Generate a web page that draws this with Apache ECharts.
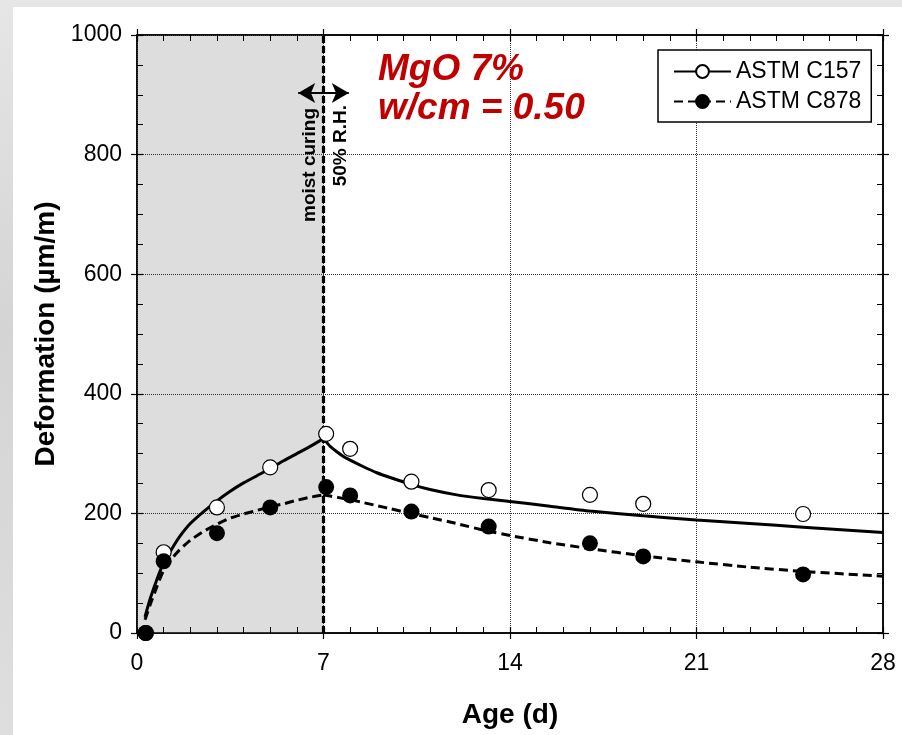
<!DOCTYPE html>
<html>
<head>
<meta charset="utf-8">
<script src="https://cdn.jsdelivr.net/npm/echarts@6/dist/echarts.min.js"></script>
<style>
html, body { margin: 0; padding: 0; width: 902px; height: 735px; overflow: hidden;
  background: linear-gradient(180deg, #e6e6e6 0%, #d4d4d4 45%, #dedede 100%); }
#panel { position: absolute; left: 13px; top: 7px; width: 889px; height: 728px; background: #fff; }
#chart { position: absolute; left: 0; top: 0; width: 902px; height: 735px; }
</style>
</head>
<body>
<div id="panel"></div>
<div id="chart"></div>
<script>
// measured points (age in days, deformation in µm/m)
var ageDays = [0.33, 1, 3, 5, 7.1, 8, 10.3, 13.2, 17, 19, 25];
var c157 = [0, 135, 210, 277, 333, 308, 253, 239, 231, 216, 199];
var c878 = [0, 120, 167, 210, 244, 230, 203, 178, 150, 128, 98];

// fitted curves: moist curing part, then drying part
var fitAgeMoist = [0.3, 0.5, 0.75, 1, 1.3, 1.6, 2, 2.5, 3, 3.5, 4, 4.5, 5, 5.5, 6, 6.5, 7];
var fitC157Moist = [27, 58, 90, 117, 140, 161, 183, 203, 221, 237, 251, 263, 275, 288, 300, 312, 325];
var fitC878Moist = [22, 48, 78, 105, 124, 139, 155, 170, 182, 192, 199, 205, 211, 216, 222, 227, 231];
var fitAgeDry = [7, 7.25, 7.5, 7.75, 8, 8.5, 9, 9.5, 10.25, 11, 12, 13, 14, 15.5, 17, 19, 21, 23, 25, 28];
var fitC157Dry = [325, 312, 303, 295, 289, 278, 268, 260, 249, 240, 231, 225, 220, 212, 204, 196, 189, 183, 177, 168];
var fitC878Dry = [231, 229, 227, 225, 223, 218, 213, 208, 200, 193, 183, 172, 163, 151, 141, 129, 119, 110, 103, 95];

var seriesNames = ["ASTM C157", "ASTM C878"];
var curingEnd = 7;      // end of moist curing (d)
var arrowSpan = [6.05, 7.95];
var arrowLevel = 903;

var FONT = '"Liberation Sans", Arial, sans-serif';

function pairs(xs, ys) {
    var out = [];
    for (var i = 0; i < xs.length; i++) {
        out.push([xs[i], ys[i]]);
    }
    return out;
}

var axisLine = {show: true, onZero: false, lineStyle: {color: '#000', width: 1.5}};
var dotted = {show: true, lineStyle: {color: '#333', type: 'dotted', width: 1}};

//x axes: grid 0 has labels and outward ticks, grid 1 inward ticks + grid lines
function xAxis(grid, pos, inside, labels) {
    var ax = {
        gridIndex: grid, type: 'value', position: pos, min: 0, max: 28, interval: 7,
        axisLine: axisLine,
        axisTick: {show: true, inside: inside, length: 6, lineStyle: {color: '#000', width: 1.2}},
        minorTick: {show: inside, splitNumber: 7, length: 6, lineStyle: {color: '#000', width: 1}},
        axisLabel: {show: labels, margin: 19, fontSize: 23, color: '#000', fontFamily: FONT},
        splitLine: {show: false},
        z: inside ? 3 : 0
    };
    if (labels) {
        ax.name = 'Age (d)';
        ax.nameLocation = 'middle';
        ax.nameGap = 68;
        ax.nameTextStyle = {fontSize: 28, fontWeight: 'bold', color: '#000', fontFamily: FONT};
    }
    if (inside && pos == 'bottom') ax.splitLine = dotted;
    return ax;
}

function yAxis(grid, pos, inside, labels) {
    var ax = {
        gridIndex: grid, type: 'value', position: pos, min: 0, max: 1000, interval: 200,
        axisLine: axisLine,
        axisTick: {show: true, inside: inside, length: 6, lineStyle: {color: '#000', width: 1.2}},
        minorTick: {show: inside, splitNumber: 4, length: 6, lineStyle: {color: '#000', width: 1}},
        axisLabel: {show: labels, margin: 15, fontSize: 23, color: '#000', fontFamily: FONT,
                    formatter: function(v) { return String(v); }},
        splitLine: {show: false},
        z: inside ? 3 : 0
    };
    if (labels) {
        ax.name = 'Deformation (µm/m)';
        ax.nameLocation = 'middle';
        ax.nameGap = 72;
        ax.nameTextStyle = {fontSize: 28, fontWeight: 'bold', color: '#000', fontFamily: FONT};
    }
    if (inside && pos == 'left') ax.splitLine = dotted;
    return ax;
}

var gridBox = {left: 137, right: 19, top: 35, bottom: 102};

function curve(name, xs, ys, dashed, fill) {
    return {
        name: name, type: 'line', smooth: 0.2, z: 4,
        data: pairs(xs, ys),
        symbol: 'circle', symbolSize: 13, showSymbol: false,
        lineStyle: {color: '#000', width: 3, type: dashed ? [9, 5] : 'solid'},
        itemStyle: {color: fill, borderColor: '#000', borderWidth: 1.3}
    };
}

var c157Moist = curve(seriesNames[0], fitAgeMoist, fitC157Moist, false, '#fff');
c157Moist.markLine = {silent: true, symbol: 'none', label: {show: false},
                      lineStyle: {color: '#000', type: [7, 3], width: 3.2},
                      data: [{xAxis: curingEnd}]};
var c157Dry = curve(seriesNames[0], fitAgeDry, fitC157Dry, false, '#fff');
c157Dry.markLine = {silent: true, symbol: ['arrow', 'arrow'], symbolSize: [15, 17], label: {show: false},
                    lineStyle: {color: '#000', type: 'solid', width: 2},
                    data: [[{coord: [arrowSpan[0], arrowLevel]}, {coord: [arrowSpan[1], arrowLevel]}]]};

var option = {
    backgroundColor: 'transparent',
    animation: false,
    grid: [Object.assign({}, gridBox), Object.assign({}, gridBox)],
    xAxis: [xAxis(0, 'bottom', false, true), xAxis(0, 'top', false, false),
            xAxis(1, 'bottom', true, false), xAxis(1, 'top', true, false)],
    yAxis: [yAxis(0, 'left', false, true), yAxis(0, 'right', false, false),
            yAxis(1, 'left', true, false), yAxis(1, 'right', true, false)],
    legend: {
        orient: 'vertical', left: 658, top: 50,
        padding: [10, 10, 9, 15], itemGap: 7,
        itemWidth: 57, itemHeight: 16,
        borderColor: '#000', borderWidth: 1.5, backgroundColor: '#fff',
        textStyle: {fontSize: 23, color: '#000', fontFamily: FONT},
        data: seriesNames
    },
    graphic: [
        {type: 'text', x: 378, y: 70, z: 10,
         style: {text: 'MgO 7%', font: 'italic bold 37px ' + FONT, fill: '#c00000',
                 textVerticalAlign: 'middle', verticalAlign: 'middle'}},
        {type: 'text', x: 378, y: 109, z: 10,
         style: {text: 'w/cm = 0.50', font: 'italic bold 37px ' + FONT, fill: '#c00000',
                 textVerticalAlign: 'middle', verticalAlign: 'middle'}},
        {type: 'text', x: 310, y: 108, rotation: Math.PI / 2, z: 10,
         style: {text: 'moist curing', font: 'bold 19px ' + FONT, fill: '#000',
                 textAlign: 'right', align: 'right', textVerticalAlign: 'middle', verticalAlign: 'middle'}},
        {type: 'text', x: 341, y: 105, rotation: Math.PI / 2, z: 10,
         style: {text: '50% R.H.', font: 'bold 19px ' + FONT, fill: '#000',
                 textAlign: 'right', align: 'right', textVerticalAlign: 'middle', verticalAlign: 'middle'}}
    ],
    series: [
        {   // moist curing shading
            name: 'curing', type: 'line', data: [], z: 1, silent: true,
            markArea: {silent: true, itemStyle: {color: '#dcdddc'},
                       data: [[{xAxis: 0}, {xAxis: curingEnd}]]}
        },
        c157Moist,
        c157Dry,
        curve(seriesNames[1], fitAgeMoist, fitC878Moist, true, '#000'),
        curve(seriesNames[1], fitAgeDry, fitC878Dry, true, '#000'),
        {
            name: seriesNames[0], type: 'scatter', z: 6,
            data: pairs(ageDays, c157),
            symbol: 'circle', symbolSize: 15,
            itemStyle: {color: '#fff', borderColor: '#000', borderWidth: 1.2, opacity: 1}
        },
        {
            name: seriesNames[1], type: 'scatter', z: 7,
            data: pairs(ageDays, c878),
            symbol: 'circle', symbolSize: 16,
            itemStyle: {color: '#000', opacity: 1}
        }
    ]
};

var myChart = echarts.init(document.getElementById('chart'));
myChart.setOption(option);
</script>
</body>
</html>
